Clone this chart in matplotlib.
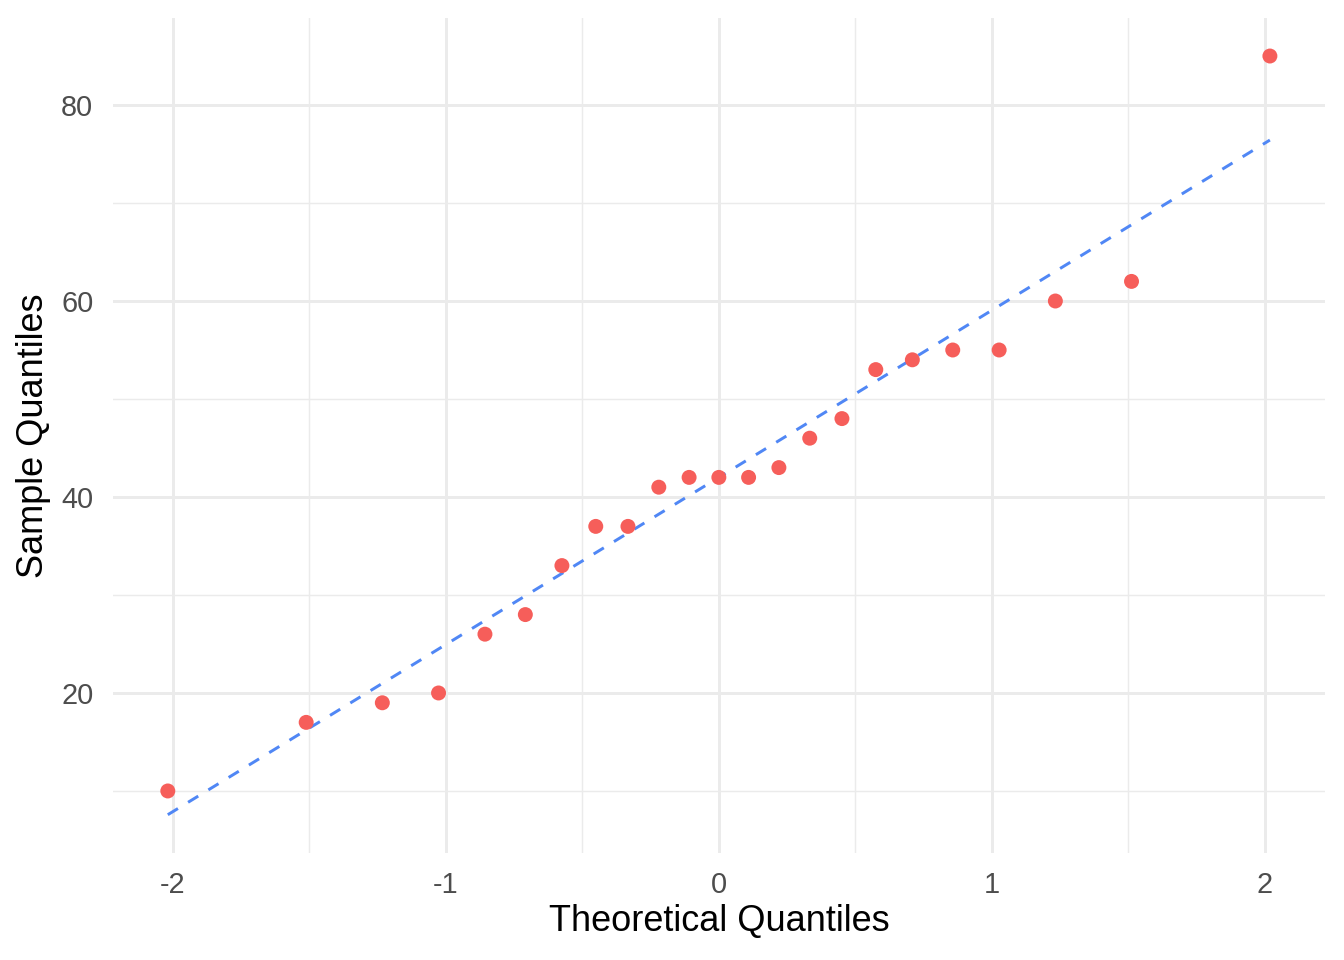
import matplotlib
matplotlib.use("Agg")
import matplotlib.pyplot as plt
import numpy as np

plt.rcParams['font.family'] = ['Liberation Sans', 'DejaVu Sans']

theoretical = [-2.019, -1.512, -1.233, -1.027, -0.857, -0.709, -0.575, -0.451,
               -0.333, -0.220, -0.109, 0.0, 0.109, 0.220, 0.333, 0.451, 0.575,
               0.709, 0.857, 1.027, 1.233, 1.512, 2.019]
sample = [10, 17, 19, 20, 26, 28, 33, 37, 37, 41, 42, 42, 42, 43, 46, 48, 53,
          54, 55, 55, 60, 62, 85]

x_ticks = [-2, -1, 0, 1, 2]
x_labels = ["-2", "-1", "0", "1", "2"]
y_ticks = [20, 40, 60, 80]
y_labels = ["20", "40", "60", "80"]
x_minor = [-1.5, -0.5, 0.5, 1.5]
y_minor = [10, 30, 50, 70]

# qq line through quartiles (like geom_qq_line)
s = np.array(sample, dtype=float)
q1, q3 = np.percentile(s, [25, 75])
z1, z3 = -0.6744898, 0.6744898
slope = (q3 - q1) / (z3 - z1)
intercept = q1 - slope * z1
xl = np.array([min(theoretical), max(theoretical)])
yl = intercept + slope * xl

fig = plt.figure(figsize=(6.72, 4.8), dpi=200)
L, R, T, B = 112.7, 1325, 18.3, 852.7
ax = fig.add_axes([L/1344, 1 - B/960, (R-L)/1344, (B-T)/960])

xmin, xmax = min(theoretical), max(theoretical)
xr = xmax - xmin
ax.set_xlim(xmin - 0.05*xr, xmax + 0.05*xr)
ax.set_ylim(3.7, 88.85)

# grid
for v in x_ticks:
    ax.axvline(v, color='#EBEBEB', lw=1.07, zorder=0)
for v in x_minor:
    ax.axvline(v, color='#EBEBEB', lw=0.53, zorder=0)
for v in y_ticks:
    ax.axhline(v, color='#EBEBEB', lw=1.07, zorder=0)
for v in y_minor:
    ax.axhline(v, color='#EBEBEB', lw=0.53, zorder=0)

ax.plot(xl, yl, color='#5087F5', lw=1.07, linestyle=(0, (4, 4)), zorder=2)
ax.scatter(theoretical, sample, s=29, color='#F65E5A', edgecolors='none', zorder=3)

for sp in ax.spines.values():
    sp.set_visible(False)
ax.set_xticks(x_ticks)
ax.set_xticklabels(x_labels)
ax.set_yticks(y_ticks)
ax.set_yticklabels(y_labels)
ax.tick_params(axis='x', length=0, labelsize=10.4, labelcolor='#4D4D4D', pad=6.5)
ax.tick_params(axis='y', length=0, labelsize=10.4, labelcolor='#4D4D4D', pad=7)
ax.set_xlabel("Theoretical Quantiles", fontsize=13, color='black', labelpad=2)
ax.set_ylabel("Sample Quantiles", fontsize=13, color='black', labelpad=3.5)

fig.savefig("out.png", dpi=200, facecolor='white')
